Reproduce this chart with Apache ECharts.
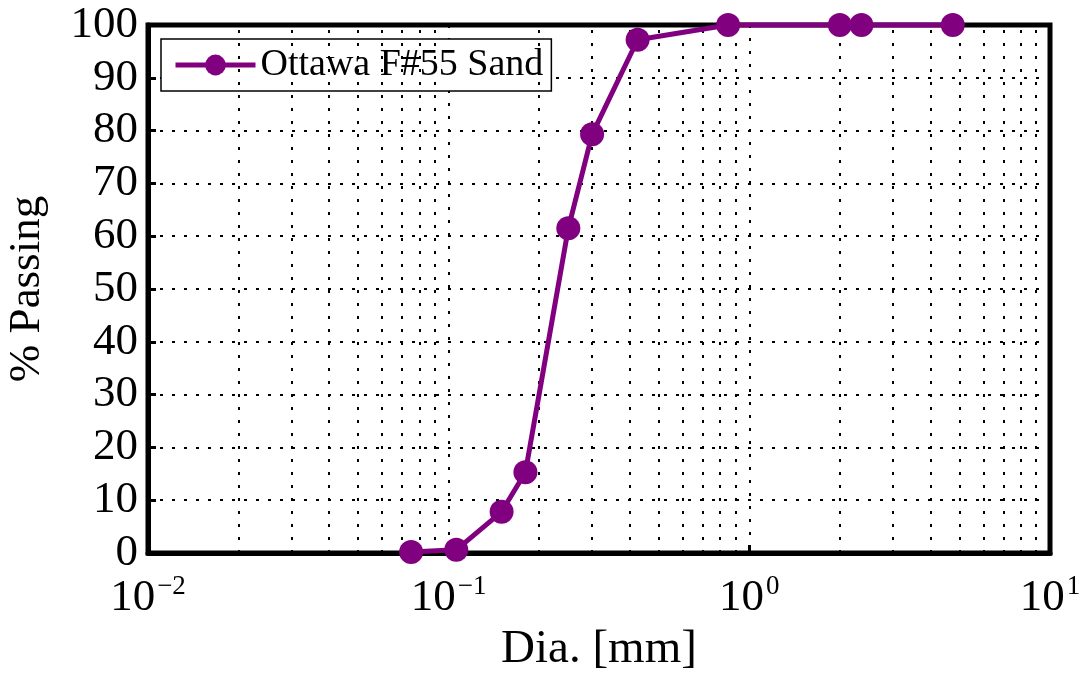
<!DOCTYPE html>
<html>
<head>
<meta charset="utf-8">
<script src="https://cdn.jsdelivr.net/npm/echarts@6/dist/echarts.min.js"></script>
<style>
  html, body { margin: 0; padding: 0; background: #fff; }
  #chart { width: 1079px; height: 673px; }
</style>
</head>
<body>
<div id="chart"></div>
<script>
// 粒径分布数据 (筛分)
const seriesName = 'Ottawa F#55 Sand';
const diameters = [0.075, 0.106, 0.15, 0.18, 0.25, 0.3, 0.425, 0.85, 2.0, 2.36, 4.75];
const passing = [0.2, 0.6, 7.8, 15.3, 61.5, 79.3, 97.2, 100, 100, 100, 100];

// 对数坐标次网格线位置
const minorGrid = [
    0.02, 0.03, 0.04, 0.05, 0.06, 0.07, 0.08, 0.09,
    0.2, 0.3, 0.4, 0.5, 0.6, 0.7, 0.8, 0.9,
    2, 3, 4, 5, 6, 7, 8, 9
];

const FONT = '"Liberation Serif", "DejaVu Serif", serif';
const PURPLE = '#800080';

const chart = echarts.init(document.getElementById('chart'));

chart.setOption({
    animation: false,
    grid: {
        left: 148, right: 29, top: 25, bottom: 120,
        outerBoundsMode: 'none',
        containLabel: false,
        show: true,
        borderColor: '#000',
        borderWidth: 5,
        backgroundColor: '#fff'
    },
    legend: {
        left: 161, top: 39,
        orient: 'vertical',
        backgroundColor: '#fff',
        borderColor: '#000',
        borderWidth: 1.5,
        borderRadius: 0,
        padding: [7, 8, 7, 12],
        itemWidth: 80,
        itemHeight: 26,
        itemGap: 0,
        lineStyle: { width: 5 },
        textStyle: { fontFamily: FONT, fontSize: 38, color: '#000' },
        data: [seriesName]
    },
    xAxis: {
        type: 'log',
        logBase: 10,
        min: 0.01,
        max: 10,
        name: 'Dia. [mm]',
        nameLocation: 'middle',
        nameGap: 57,
        nameTextStyle: { fontFamily: FONT, fontSize: 47, color: '#000' },
        axisLine: { show: true, lineStyle: { color: '#000', width: 5 } },
        axisTick: { show: true, inside: true, length: 8, lineStyle: { color: '#000', width: 3 } },
        axisLabel: {
            margin: 20,
            formatter: v => '{b|10}{s|' + Math.round(Math.log10(v)).toString().replace('-', '\u2212') + '}',
            rich: {
                b: { fontFamily: FONT, fontSize: 45, color: '#000' },
                s: { fontFamily: FONT, fontSize: 27, color: '#000', padding: [0, 0, 24, 2] }
            }
        },
        splitLine: { show: true, lineStyle: { color: '#000', width: 2, type: [3, 10] } }
    },
    yAxis: {
        type: 'value',
        min: 0,
        max: 100,
        interval: 10,
        name: '% Passing',
        nameLocation: 'middle',
        nameGap: 98,
        nameTextStyle: { fontFamily: FONT, fontSize: 45, color: '#000' },
        axisLine: { show: true, lineStyle: { color: '#000', width: 5 } },
        axisTick: { show: true, inside: true, length: 8, lineStyle: { color: '#000', width: 3 } },
        axisLabel: { margin: 10, fontFamily: FONT, fontSize: 45, color: '#000' },
        splitLine: { show: true, lineStyle: { color: '#000', width: 2, type: [3, 9] } }
    },
    series: [
        {
            // 次网格线
            name: 'minor',
            type: 'line',
            data: [],
            silent: true,
            z: 1,
            markLine: {
                silent: true,
                symbol: 'none',
                label: { show: false },
                lineStyle: { color: '#000', width: 2, type: [3, 10] },
                data: minorGrid.map(v => ({ xAxis: v }))
            }
        },
        {
            name: seriesName,
            type: 'line',
            data: diameters.map((d, i) => [d, passing[i]]),
            symbol: 'circle',
            symbolSize: 24,
            clip: false,
            z: 5,
            lineStyle: { color: PURPLE, width: 5 },
            itemStyle: { color: PURPLE }
        }
    ]
});
</script>
</body>
</html>
